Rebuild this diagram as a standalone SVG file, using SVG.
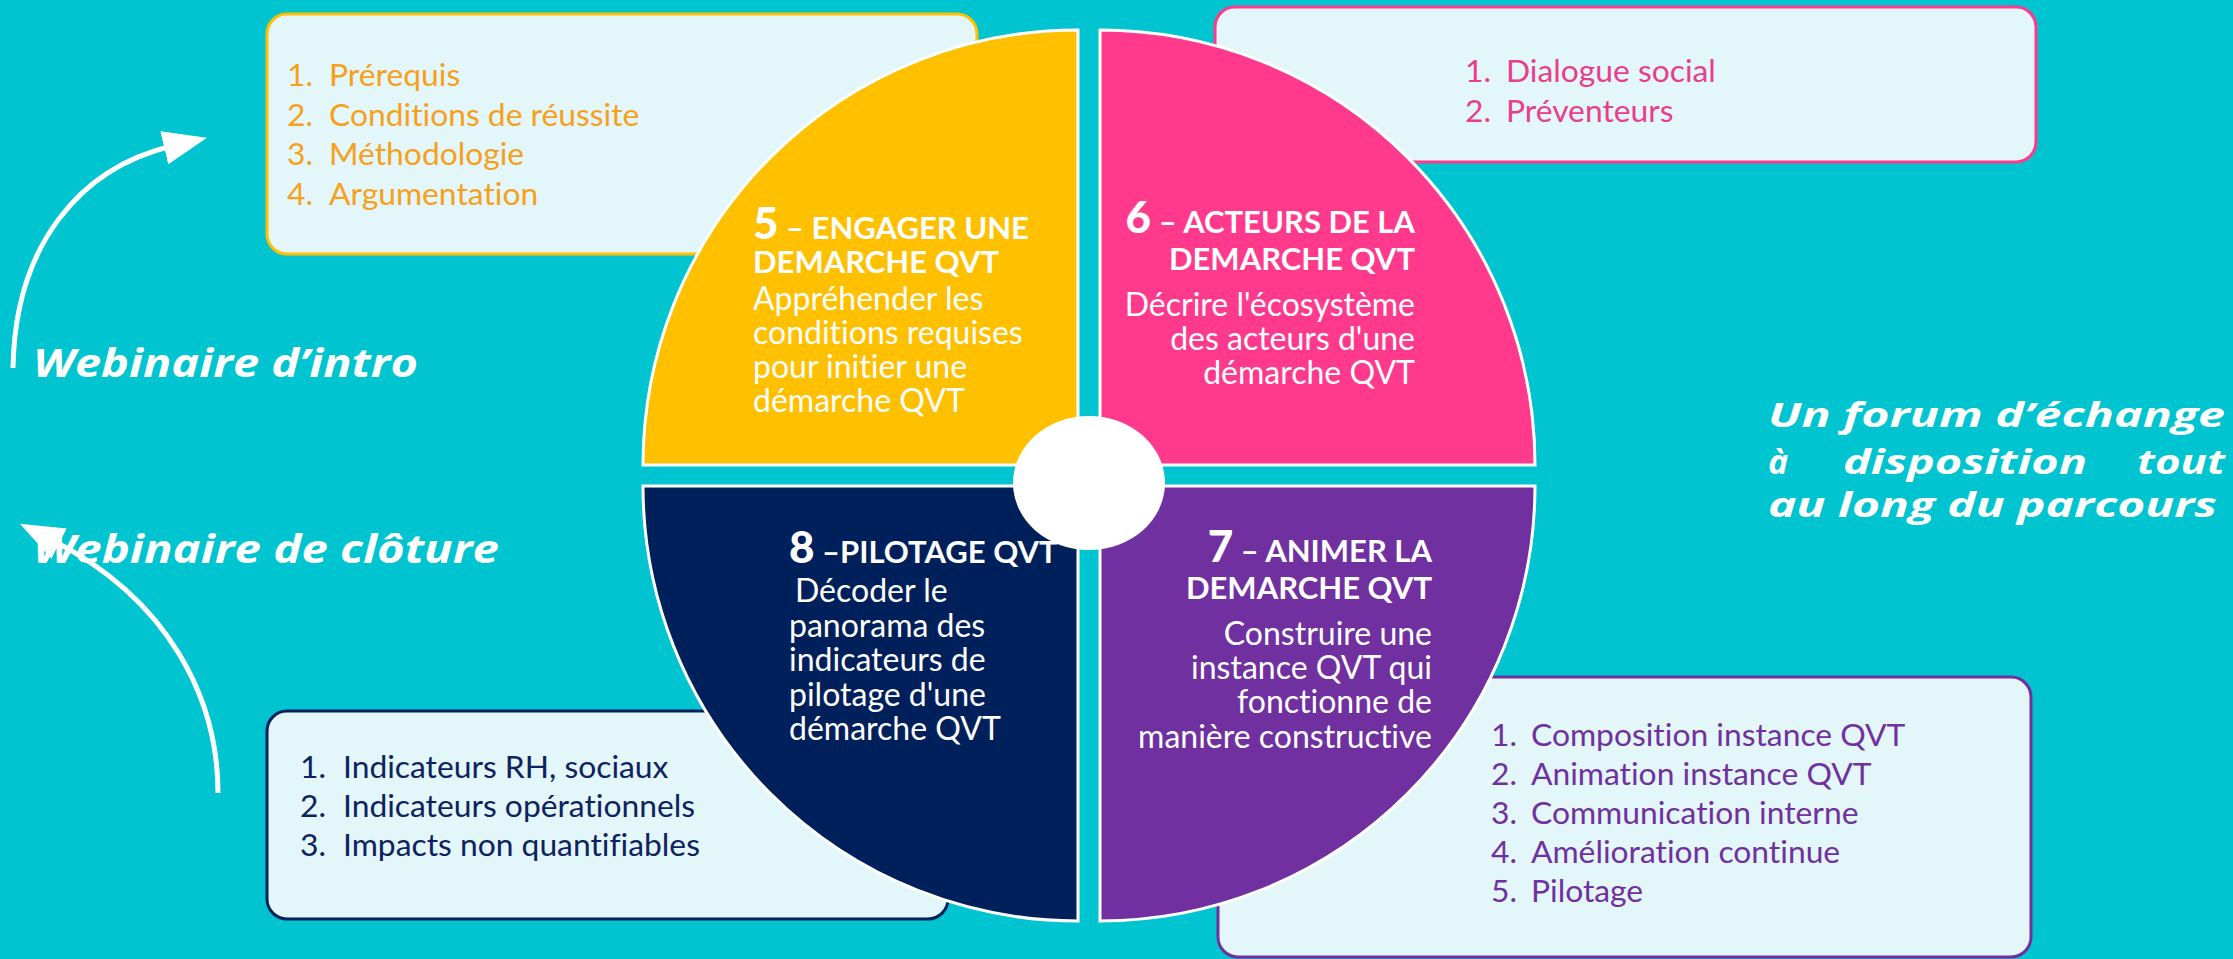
<svg xmlns="http://www.w3.org/2000/svg" width="2233" height="959" viewBox="0 0 2233 959">
<style>
.bg{fill:#00C4D0}
.box{fill:#E3F6F9;stroke-width:3}
.q{stroke:#FFFFFF;stroke-width:3}
text{font-variant-ligatures:none}
.t{font-family:Lato,"Liberation Sans",sans-serif;font-size:31.8px}
.tb{font-family:Lato,"Liberation Sans",sans-serif;font-size:31px;font-weight:700;fill:#FFFFFF}
.num{font-size:44px;font-weight:900}
.w{font-family:Lato,"Liberation Sans",sans-serif;font-size:32px;fill:#FFFFFF}
.side{font-family:"Open Sans","Liberation Sans",sans-serif;font-weight:700;font-style:italic;fill:#FFFFFF}
.arr{fill:none;stroke:#FFFFFF;stroke-width:5}
</style>
<defs>
<marker id="ah" markerUnits="userSpaceOnUse" markerWidth="44" markerHeight="34" viewBox="0 0 44 34" refX="8" refY="17" orient="auto">
<path d="M0,0 L44,17 L0,34 Z" fill="#FFFFFF"/>
</marker>
</defs>
<rect class="bg" x="0" y="0" width="2233" height="959"/>

<g id="box-engager">
<rect class="box" x="267" y="14" width="710" height="240" rx="20" stroke="#FFC000"/>
<g class="t" fill="#F7A01A">
<text x="313" y="86" text-anchor="end">1.</text><text x="329" y="86">Prérequis</text>
<text x="313" y="125.5" text-anchor="end">2.</text><text x="329" y="125.5">Conditions de réussite</text>
<text x="313" y="165" text-anchor="end">3.</text><text x="329" y="165">Méthodologie</text>
<text x="313" y="204.5" text-anchor="end">4.</text><text x="329" y="204.5">Argumentation</text>
</g>
</g>

<g id="box-acteurs">
<rect class="box" x="1215" y="7" width="821" height="155" rx="20" stroke="#FF3A8C"/>
<g class="t" fill="#E83E8C">
<text x="1491" y="82" text-anchor="end">1.</text><text x="1506" y="82">Dialogue social</text>
<text x="1491" y="121.5" text-anchor="end">2.</text><text x="1506" y="121.5">Préventeurs</text>
</g>
</g>

<g id="box-pilotage">
<rect class="box" x="267" y="711" width="681" height="208" rx="20" stroke="#00205B"/>
<g class="t" fill="#0D2260">
<text x="326" y="778" text-anchor="end">1.</text><text x="343" y="778">Indicateurs RH, sociaux</text>
<text x="326" y="817" text-anchor="end">2.</text><text x="343" y="817">Indicateurs opérationnels</text>
<text x="326" y="856" text-anchor="end">3.</text><text x="343" y="856">Impacts non quantifiables</text>
</g>
</g>

<g id="box-animer">
<rect class="box" x="1218" y="677" width="813" height="280" rx="20" stroke="#7030A0"/>
<g class="t" fill="#7030A0">
<text x="1517" y="746" text-anchor="end">1.</text><text x="1531" y="746">Composition instance QVT</text>
<text x="1517" y="785" text-anchor="end">2.</text><text x="1531" y="785">Animation instance QVT</text>
<text x="1517" y="824" text-anchor="end">3.</text><text x="1531" y="824">Communication interne</text>
<text x="1517" y="863" text-anchor="end">4.</text><text x="1531" y="863">Amélioration continue</text>
<text x="1517" y="902" text-anchor="end">5.</text><text x="1531" y="902">Pilotage</text>
</g>
</g>

<g id="q5">
<path class="q" fill="#FFC000" d="M1078,465 L643,465 A435,435 0 0 1 1078,30 Z"/>
<text class="tb" x="753" y="239"><tspan class="num">5</tspan> – ENGAGER UNE</text>
<text class="tb" x="753" y="273">DEMARCHE QVT</text>
<text class="w" x="753" y="310">Appréhender les</text>
<text class="w" x="753" y="344">conditions requises</text>
<text class="w" x="753" y="378">pour initier une</text>
<text class="w" x="753" y="412">démarche QVT</text>
</g>

<g id="q6">
<path class="q" fill="#FF3A8C" d="M1100,465 L1100,30 A435,435 0 0 1 1535,465 Z"/>
<text class="tb" x="1415" y="233" text-anchor="end"><tspan class="num">6</tspan> – ACTEURS DE LA</text>
<text class="tb" x="1415" y="270" text-anchor="end">DEMARCHE QVT</text>
<text class="w" x="1415" y="316" text-anchor="end">Décrire l'écosystème</text>
<text class="w" x="1415" y="350" text-anchor="end">des acteurs d'une</text>
<text class="w" x="1415" y="384" text-anchor="end">démarche QVT</text>
</g>

<g id="q8">
<path class="q" fill="#00205B" d="M1078,486 L1078,921 A435,435 0 0 1 643,486 Z"/>
<text class="tb" x="789" y="563"><tspan class="num">8</tspan> –PILOTAGE QVT</text>
<text class="w" x="795" y="602">Décoder le</text>
<text class="w" x="789" y="637">panorama des</text>
<text class="w" x="789" y="671">indicateurs de</text>
<text class="w" x="789" y="706">pilotage d'une</text>
<text class="w" x="789" y="740">démarche QVT</text>
</g>

<g id="q7">
<path class="q" fill="#7030A0" d="M1100,486 L1535,486 A435,435 0 0 1 1100,921 Z"/>
<text class="tb" x="1432" y="562" text-anchor="end"><tspan class="num">7</tspan> – ANIMER LA</text>
<text class="tb" x="1432" y="599" text-anchor="end">DEMARCHE QVT</text>
<text class="w" x="1432" y="645" text-anchor="end">Construire une</text>
<text class="w" x="1432" y="679" text-anchor="end">instance QVT qui</text>
<text class="w" x="1432" y="713" text-anchor="end">fonctionne de</text>
<text class="w" x="1432" y="748" text-anchor="end">manière constructive</text>
</g>

<g id="center">
<ellipse cx="1089" cy="483" rx="76" ry="67" fill="#FFFFFF"/>
</g>

<g id="labels">
<text class="side" x="33" y="377" font-size="40" textLength="385" lengthAdjust="spacingAndGlyphs">Webinaire d’intro</text>
<text class="side" x="33" y="563" font-size="40" textLength="466" lengthAdjust="spacingAndGlyphs">Webinaire de clôture</text>
<text class="side" x="1768" y="427" font-size="34" textLength="457" lengthAdjust="spacingAndGlyphs">Un forum d’échange</text>
<text class="side" x="1768" y="474" font-size="34">à</text>
<text class="side" x="1843" y="474" font-size="34" textLength="244" lengthAdjust="spacingAndGlyphs">disposition</text>
<text class="side" x="2137" y="474" font-size="34" textLength="88" lengthAdjust="spacingAndGlyphs">tout</text>
<text class="side" x="1768" y="517" font-size="34" textLength="449" lengthAdjust="spacingAndGlyphs">au long du parcours</text>
</g>

<g id="connectors">
<path class="arr" d="M13,368 C15,245 80,168 172,146" marker-end="url(#ah)"/>
<path class="arr" d="M218,793 C218,700 170,600 52,540" marker-end="url(#ah)"/>
</g>
</svg>
